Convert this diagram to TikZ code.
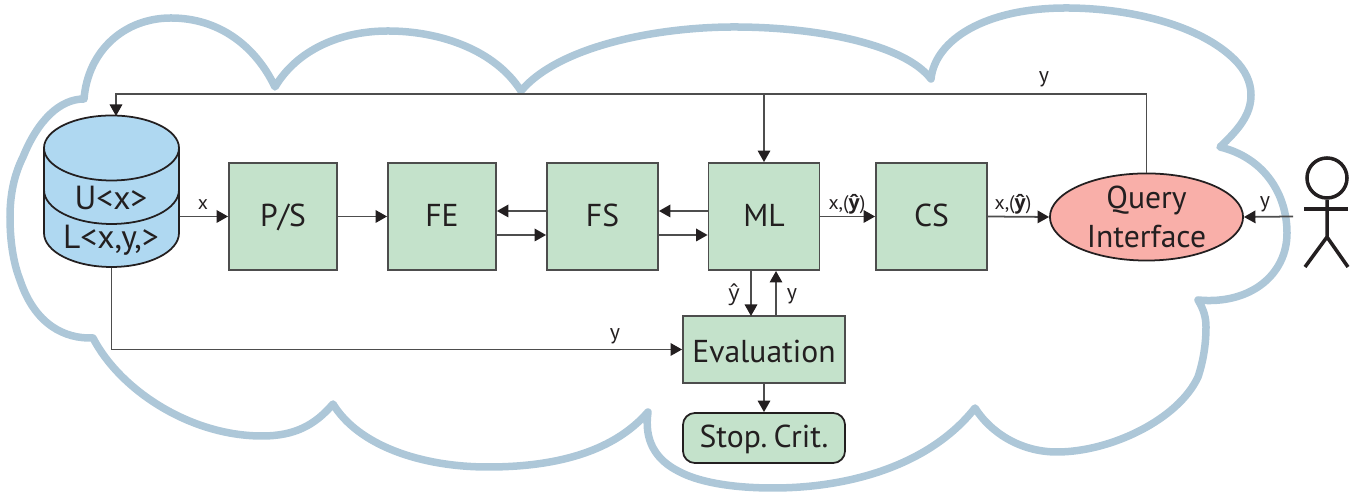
\documentclass[tikz,border=0pt]{standalone}
\usepackage{fontspec}
\setmainfont{PT Sans}
\newfontfamily\hatfont{Open Sans}
\usetikzlibrary{arrows.meta,shapes.geometric}
\definecolor{boxgreen}{HTML}{C4E2CB}
\definecolor{dbblue}{HTML}{AFD8F1}
\definecolor{querypink}{HTML}{F9AFA9}
\definecolor{cloudblue}{HTML}{ADC7D8}
\definecolor{inkc}{HTML}{231F20}
\definecolor{linec}{HTML}{4D4D4D}
\newcommand{\yhat}{{\hatfont ŷ}}
\newcommand{\yhatb}{{\hatfont\bfseries ŷ}}
\tikzset{
  blockbox/.style={draw=linec,line width=0.5pt,fill=boxgreen,text=inkc,font=\fontsize{9}{11}\selectfont,inner sep=0pt},
  squarebox/.style={blockbox,minimum width=1.11cm,minimum height=1.07cm,text height=0.2cm,text depth=0pt},
  flow/.style={draw=linec,line width=0.5pt,-{Triangle[length=1.15mm,width=1.25mm,color=inkc]}},
  lab/.style={text=inkc,font=\fontsize{5.6}{7}\selectfont,inner sep=0pt},
  ylab/.style={text=inkc,font=\fontsize{6.2}{7}\selectfont,inner sep=0pt},
  dblab/.style={text=inkc,font=\fontsize{9.5}{11}\selectfont,inner sep=0pt},
  dbline/.style={draw=inkc,line width=0.5pt,fill=dbblue},
  stick/.style={draw=inkc,line width=1pt}
}
\begin{document}
\begin{tikzpicture}[x=0.01cm,y=-0.01cm]
  \useasboundingbox (0,0) rectangle (1357,492);
  % cloud
  \draw[cloudblue,line width=0.075cm,line cap=round,line join=round]
    (84,99) .. controls (88,50) and (125,18) .. (171,18)
    .. controls (218,18) and (255,45) .. (275,87)
    .. controls (297,50) and (340,31) .. (388,31)
    .. controls (440,31) and (495,50) .. (521,91)
    .. controls (560,45) and (660,27) .. (734,27)
    .. controls (820,27) and (905,45) .. (931,79)
    .. controls (935,40) and (985,8) .. (1066,8)
    .. controls (1130,8) and (1200,25) .. (1235,60)
    .. controls (1245,70) and (1251,82) .. (1251,95)
    .. controls (1251,115) and (1238,130) .. (1220,147)
    .. controls (1265,158) and (1287,195) .. (1287,233)
    .. controls (1287,275) and (1250,305) .. (1198,300)
    .. controls (1204,310) and (1206,318) .. (1206,327)
    .. controls (1206,345) and (1203,362) .. (1198,377)
    .. controls (1178,420) and (1110,452) .. (1057,452)
    .. controls (1020,452) and (990,432) .. (975,408)
    .. controls (930,465) and (850,488) .. (773,488)
    .. controls (725,488) and (695,480) .. (680,472)
    .. controls (655,460) and (644,440) .. (648,412)
    .. controls (615,450) and (560,467) .. (488,467)
    .. controls (420,467) and (358,445) .. (333,404)
    .. controls (315,425) and (295,436) .. (262,436)
    .. controls (190,436) and (120,390) .. (93,338)
    .. controls (65,339) and (35,325) .. (20,280)
    .. controls (13,262) and (10,240) .. (10,217)
    .. controls (10,195) and (14,175) .. (23,157)
    .. controls (38,120) and (60,99) .. (84,99);

  % database
  \node[minimum width=1.35cm,minimum height=1.51cm,inner sep=0pt] (db) at (111.5,191.5) {};
  \draw[dbline] (44,148) -- (44,233) arc[start angle=180,end angle=360,x radius=67.5,y radius=-34] -- (179,148) -- cycle;
  \draw[dbline] (111.5,148) ellipse[x radius=67.5,y radius=32.5];
  \draw[inkc,line width=0.5pt] (44,190) arc[start angle=180,end angle=360,x radius=67.5,y radius=-34];
  \node[dblab] (unl) at (111,198) {U<x>};
  \node[dblab] (lab) at (111,240) {L<x,y,>};

  % blocks
  \node[squarebox,minimum width=1.08cm] (ps) at (283,216.5) {P/S};
  \node[squarebox,minimum width=1.08cm] (fe) at (442,216.5) {FE};
  \node[squarebox] (fs) at (602.5,216.5) {FS};
  \node[squarebox] (ml) at (764,216.5) {ML};
  \node[squarebox] (cs) at (931.5,216.5) {CS};
  \node[blockbox,minimum width=1.62cm,minimum height=0.67cm,text height=0.26cm,text depth=0pt] (eval) at (764,349.5) {Evaluation};
  \node[blockbox,rounded corners=0.12cm,draw=inkc,minimum width=1.62cm,minimum height=0.5cm,text height=0.2cm,text depth=0pt] (stop) at (764,438) {Stop.\hspace{.2em}Crit.};
  \node[blockbox,draw=inkc,fill=querypink,ellipse,minimum width=1.93cm,minimum height=0.82cm,align=center] (query) at (1146.5,217) {Query\\Interface};

  % connectors
  \coordinate (dbtop) at (116,116);
  \coordinate (bus) at (764,94);
  \coordinate (actor) at (1293,216.5);
  \draw[flow] (db.east |- ps.west) -- (ps.west);
  \draw[flow] (ps.east) -- (fe.west);
  \draw[flow] (fs.west |- 0,211) -- (fe.east |- 0,211);
  \draw[flow] (fe.east |- 0,235) -- (fs.west |- 0,235);
  \draw[flow] (ml.west |- 0,211) -- (fs.east |- 0,211);
  \draw[flow] (fs.east |- 0,235) -- (ml.west |- 0,235);
  \draw[flow] (ml.east) -- (cs.west);
  \draw[flow] (cs.east) -- (query.west);
  \draw[flow] (actor) -- (query.east);
  \draw[flow] (query.north) |- (dbtop |- bus) -- (dbtop);
  \draw[flow] (bus) -- (ml.north);
  \draw[flow] (751,271) -- (751,316);
  \draw[flow] (776,316) -- (776,271);
  \draw[flow] (eval.south) -- (stop.north);
  \draw[flow] (db.south) |- (eval.west);

  % labels
  \node[lab] (lx) at (203,204.5) {x};
  \node[ylab] (ly) at (615,336) {y};
  \node[lab] (lmlcs) at (847,204) {x,(\yhatb)};
  \node[lab] (lcsq) at (1013,204) {x,(\yhatb)};
  \node[ylab] (lhat) at (734,295) {\yhat};
  \node[ylab] (lback) at (792,296) {y};
  \node[ylab] (ltop) at (1044,79) {y};
  \node[ylab] (luser) at (1265,204) {y};

  % person
  \node[stick,circle,minimum size=0.4cm,inner sep=0pt] (head) at (1327,178) {};
  \draw[stick] (head.south) -- (1327,237) -- (1305,267);
  \draw[stick] (1327,237) -- (1348,267);
  \draw[stick] (1304,209) -- (1348,209);
\end{tikzpicture}
\end{document}
